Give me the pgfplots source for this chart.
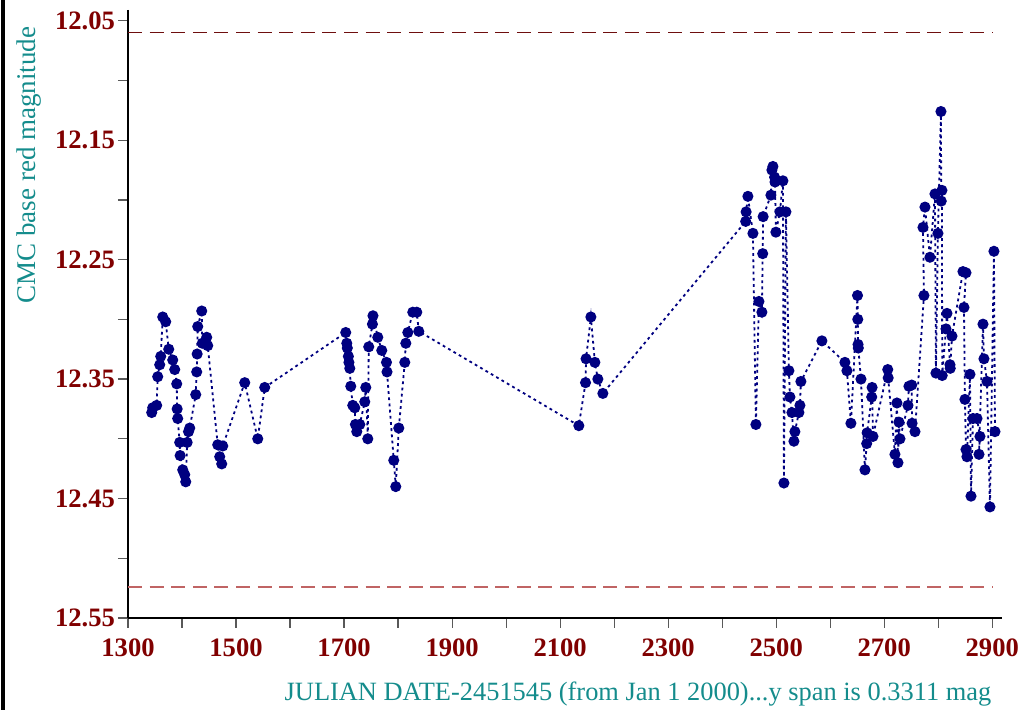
\documentclass[border=0pt]{standalone}
\usepackage{fontspec}
\setmainfont{Liberation Serif}
\usepackage{pgfplots}
\pgfplotsset{compat=1.18}
\definecolor{navy}{RGB}{0,0,128}
\definecolor{tickred}{RGB}{128,0,0}
\definecolor{labelteal}{RGB}{20,140,140}
\definecolor{lowred}{RGB}{192,100,100}
\definecolor{topred}{RGB}{110,14,14}

\begin{document}
\begin{tikzpicture}
\path[use as bounding box] (0,0) rectangle (512pt,355pt);
\draw[line width=1.8pt] (1.6pt,0) -- (1.6pt,355pt);
\begin{axis}[
    at={(64pt,46pt)}, anchor=south west,
    scale only axis, width=437pt, height=304pt,
    xmin=1300, xmax=2918, ymin=12.041, ymax=12.55,
    y dir=reverse,
    axis x line=bottom, axis y line=left,
    axis line style={-, line width=0.9pt, black},
    tick align=outside,
    major tick length=5pt, minor tick length=5pt,
    every tick/.style={black!65, line width=0.6pt},
    xtick={1300,1500,...,2900},
    minor xtick={1400,1600,...,2800},
    ytick={12.05,12.15,12.25,12.35,12.45,12.55},
    minor ytick={12.1,12.2,12.3,12.4,12.5},
    /pgf/number format/assume math mode=true,
    ticklabel style={font=\fontsize{13.3}{15}\selectfont\bfseries, text=tickred},
    x tick label style={
            /pgf/number format/.cd,
            1000 sep={},
            /tikz/.cd,
            yshift=-2pt
        },
    y tick label style={
            /pgf/number format/.cd,
            fixed,
            fixed zerofill,
            precision=2,
            /tikz/.cd,
            xshift=2pt
        },
    xlabel={JULIAN DATE-2451545 (from Jan 1 2000)...y span is 0.3311 mag},
    ylabel={CMC base red magnitude},
    every axis x label/.style={at={(axis description cs:0.5835,-0.1349)}, anchor=base,
        font=\fontsize{13.2}{16}\selectfont, text=labelteal},
    every axis y label/.style={at={(axis description cs:-0.1064,0.745)}, anchor=base,
        rotate=90, font=\fontsize{13.5}{16}\selectfont, text=labelteal},
]

% reference levels
\addplot [topred, line width=0.75pt, dash pattern=on 7pt off 3.8pt] coordinates {
        (1300, 12.060) (2900, 12.060)
    };
\addplot [lowred, line width=0.75pt, dash pattern=on 7pt off 3.8pt] coordinates {
        (1300, 12.524) (2900, 12.524)
    };

% observations
\addplot [navy, line width=0.9pt, dash pattern=on 1.4pt off 1.7pt,
          mark=*, mark size=2.3pt, mark options={solid, fill=navy, draw=navy}] coordinates {
        (1343.9, 12.378)
        (1345.7, 12.374)
        (1353.1, 12.372)
        (1355.0, 12.348)
        (1358.7, 12.338)
        (1360.6, 12.331)
        (1364.3, 12.298)
        (1369.8, 12.302)
        (1375.4, 12.325)
        (1382.8, 12.334)
        (1386.5, 12.342)
        (1390.2, 12.354)
        (1391.0, 12.375)
        (1392.0, 12.383)
        (1395.7, 12.403)
        (1396.5, 12.414)
        (1401.3, 12.426)
        (1405.0, 12.430)
        (1406.9, 12.436)
        (1409.5, 12.403)
        (1412.0, 12.394)
        (1414.3, 12.391)
        (1425.4, 12.363)
        (1427.2, 12.344)
        (1428.0, 12.329)
        (1429.1, 12.306)
        (1436.5, 12.293)
        (1437.5, 12.320)
        (1445.7, 12.315)
        (1447.6, 12.322)
        (1466.1, 12.405)
        (1469.8, 12.415)
        (1473.5, 12.421)
        (1475.4, 12.406)
        (1516.1, 12.353)
        (1540.2, 12.400)
        (1553.1, 12.357)
        (1703.1, 12.311)
        (1705.0, 12.320)
        (1706.0, 12.324)
        (1708.0, 12.331)
        (1709.0, 12.336)
        (1710.6, 12.341)
        (1712.4, 12.356)
        (1716.1, 12.372)
        (1719.8, 12.374)
        (1721.0, 12.388)
        (1723.5, 12.394)
        (1729.1, 12.388)
        (1738.3, 12.369)
        (1740.2, 12.357)
        (1743.9, 12.400)
        (1745.7, 12.323)
        (1752.5, 12.304)
        (1753.5, 12.297)
        (1762.4, 12.315)
        (1769.8, 12.326)
        (1778.5, 12.336)
        (1779.5, 12.344)
        (1792.0, 12.418)
        (1795.7, 12.440)
        (1801.3, 12.391)
        (1812.4, 12.336)
        (1814.3, 12.320)
        (1818.0, 12.311)
        (1827.2, 12.294)
        (1834.6, 12.294)
        (1838.3, 12.310)
        (2134.6, 12.389)
        (2147.0, 12.353)
        (2148.0, 12.333)
        (2156.9, 12.298)
        (2164.3, 12.336)
        (2169.8, 12.350)
        (2179.1, 12.362)
        (2443.5, 12.218)
        (2444.3, 12.210)
        (2447.6, 12.197)
        (2456.9, 12.228)
        (2462.4, 12.388)
        (2468.0, 12.285)
        (2473.5, 12.294)
        (2475.0, 12.245)
        (2475.8, 12.214)
        (2490.2, 12.196)
        (2492.0, 12.175)
        (2493.9, 12.172)
        (2497.0, 12.181)
        (2497.8, 12.185)
        (2499.4, 12.227)
        (2506.9, 12.210)
        (2512.4, 12.184)
        (2514.3, 12.437)
        (2518.0, 12.210)
        (2523.5, 12.343)
        (2525.4, 12.365)
        (2529.1, 12.378)
        (2532.8, 12.402)
        (2534.6, 12.394)
        (2542.0, 12.378)
        (2543.9, 12.372)
        (2545.7, 12.352)
        (2584.6, 12.318)
        (2627.2, 12.336)
        (2630.9, 12.343)
        (2638.3, 12.387)
        (2650.5, 12.280)
        (2651.0, 12.300)
        (2651.5, 12.321)
        (2652.0, 12.324)
        (2656.9, 12.350)
        (2664.3, 12.426)
        (2667.5, 12.404)
        (2668.3, 12.395)
        (2676.8, 12.365)
        (2677.5, 12.357)
        (2679.1, 12.398)
        (2706.5, 12.342)
        (2707.3, 12.349)
        (2719.8, 12.413)
        (2723.5, 12.370)
        (2725.4, 12.420)
        (2727.2, 12.386)
        (2729.1, 12.400)
        (2743.9, 12.372)
        (2745.7, 12.356)
        (2750.8, 12.355)
        (2751.5, 12.387)
        (2756.9, 12.394)
        (2773.5, 12.280)
        (2771.7, 12.223)
        (2775.4, 12.206)
        (2784.6, 12.248)
        (2793.9, 12.195)
        (2795.7, 12.345)
        (2799.4, 12.228)
        (2805.0, 12.126)
        (2805.5, 12.201)
        (2806.8, 12.192)
        (2807.3, 12.347)
        (2814.3, 12.308)
        (2816.1, 12.295)
        (2821.7, 12.338)
        (2822.2, 12.341)
        (2825.4, 12.314)
        (2845.7, 12.260)
        (2851.3, 12.261)
        (2847.6, 12.290)
        (2849.4, 12.367)
        (2851.3, 12.409)
        (2853.1, 12.415)
        (2858.7, 12.346)
        (2860.6, 12.448)
        (2864.3, 12.383)
        (2871.7, 12.383)
        (2877.2, 12.398)
        (2875.4, 12.413)
        (2882.8, 12.304)
        (2884.6, 12.333)
        (2890.2, 12.352)
        (2895.7, 12.457)
        (2903.1, 12.243)
        (2905.0, 12.394)
    };

\end{axis}
\end{tikzpicture}
\end{document}
